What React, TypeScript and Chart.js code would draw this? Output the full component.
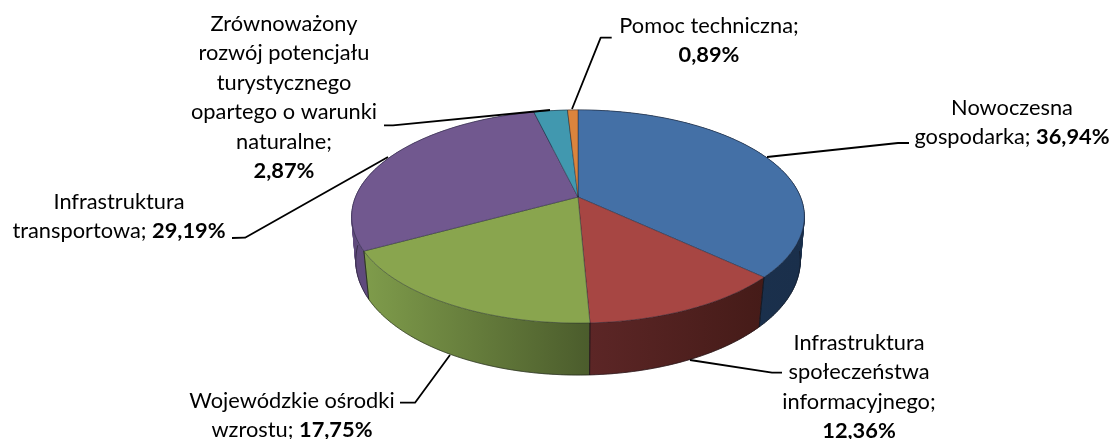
import React, { useEffect, useRef } from "react";
import { Chart, registerables } from "chart.js";

Chart.register(...registerables);

const categories = [
  "Nowoczesna gospodarka",
  "Infrastruktura społeczeństwa informacyjnego",
  "Wojewódzkie ośrodki wzrostu",
  "Infrastruktura transportowa",
  "Zrównoważony rozwój potencjału turystycznego opartego o warunki naturalne",
  "Pomoc techniczna",
];
const shares = [36.94, 12.36, 17.75, 29.19, 2.87, 0.89];
const faceColors = ["#4470A6", "#A74643", "#89A54E", "#71588F", "#4198AF", "#DB843D"];
const wallLeft = ["#1B3350", "#5C2626", "#7F9C4B", "#5F4A7C", "#2A6374", "#8F5628"];
const wallRight = ["#1A2F4B", "#451B18", "#4B5C2C", "#5F4A7C", "#2A6374", "#8F5628"];

// Text lines of each label; the last line (or the tail of it) carries the bold share.
const labelLines = [
  ["Nowoczesna", "gospodarka; "],
  ["Infrastruktura", "społeczeństwa", "informacyjnego;", ""],
  ["Wojewódzkie ośrodki", "wzrostu; "],
  ["Infrastruktura", "transportowa; "],
  ["Zrównoważony", "rozwój potencjału", "turystycznego", "opartego o warunki", "naturalne;", ""],
  ["Pomoc techniczna;", ""],
];
const labelCenterX = [1012, 859, 292, 119, 284, 709];
const labelFirstY = [107.5, 343, 401, 202, 24, 26];
const leaderLines = [
  [[767, 157], [898, 143], [909, 143]],
  [[690, 360], [772, 372.7], [782, 372.7]],
  [[450, 355], [415, 402.7], [400, 402.7]],
  [[388, 157], [245, 237.7], [232, 238]],
  [[550, 110], [393, 125.3], [384, 125.3]],
  [[572, 109], [600.7, 37.7], [611.7, 37.7]],
];

const FONT = "Lato";
const SIZE = 21.8;
const LINE = 29.4;

const top = { cx: 578, cy: 197, a: 222.5, b: 103, k: 0.183 };
const bottom = { cx: 578, cy: 241.3, a: 219, b: 111, k: 0.17 };
const FRONT_FROM = (95 * Math.PI) / 180;
const FRONT_TO = (268 * Math.PI) / 180;

function project(p: typeof top, t: number) {
  const u = Math.sin(t);
  const v = -Math.cos(t);
  const w = 1 - p.k * v;
  return [p.cx + (p.a * u) / w, p.cy + (p.b * v) / w];
}

function rim(p: typeof top, t0: number, t1: number) {
  const n = Math.max(2, Math.ceil(((t1 - t0) * 180) / Math.PI));
  const out: number[][] = [];
  for (let i = 0; i <= n; i++) out.push(project(p, t0 + ((t1 - t0) * i) / n));
  return out;
}

const pie3d = {
  id: "pie3d",
  beforeDatasetsDraw(chart: any) {
    const ctx: CanvasRenderingContext2D = chart.ctx;
    const arcs = chart.getDatasetMeta(0).data;
    const angles = arcs.map((a: any) => [a.startAngle + Math.PI / 2, a.endAngle + Math.PI / 2]);
    ctx.save();
    ctx.lineJoin = "round";

    // side walls
    for (let i = arcs.length - 1; i >= 0; i--) {
      const [t0, t1] = angles[i];
      const upper = rim(top, t0, t1);
      const lower = rim(bottom, t0, t1);
      const xs = upper.concat(lower).map((q) => q[0]);
      const g = ctx.createLinearGradient(Math.min(...xs), 0, Math.max(...xs), 0);
      g.addColorStop(0, wallLeft[i]);
      g.addColorStop(1, wallRight[i]);
      ctx.beginPath();
      for (let j = 0; j + 1 < upper.length; j++) {
        ctx.moveTo(upper[j][0], upper[j][1]);
        ctx.lineTo(upper[j + 1][0], upper[j + 1][1]);
        ctx.lineTo(lower[j + 1][0], lower[j + 1][1]);
        ctx.lineTo(lower[j][0], lower[j][1]);
        ctx.closePath();
      }
      ctx.fillStyle = g;
      ctx.fill();
      ctx.strokeStyle = g;
      ctx.lineWidth = 0.6;
      ctx.stroke();
    }

    // front edges of the walls
    ctx.strokeStyle = "rgba(15,15,20,0.7)";
    ctx.lineWidth = 0.7;
    angles.forEach(([t0, t1]: number[]) => {
      const a = Math.max(t0, FRONT_FROM);
      const b = Math.min(t1, FRONT_TO);
      if (b <= a) return;
      ctx.beginPath();
      rim(bottom, a, b).forEach((q, j) => (j ? ctx.lineTo(q[0], q[1]) : ctx.moveTo(q[0], q[1])));
      ctx.stroke();
      [t0, t1].forEach((t) => {
        if (t < FRONT_FROM || t > FRONT_TO) return;
        const u = project(top, t);
        const l = project(bottom, t);
        ctx.beginPath();
        ctx.moveTo(u[0], u[1]);
        ctx.lineTo(l[0], l[1]);
        ctx.stroke();
      });
    });

    // top faces
    arcs.forEach((_: any, i: number) => {
      const [t0, t1] = angles[i];
      const pts = rim(top, t0, t1);
      ctx.beginPath();
      ctx.moveTo(top.cx, top.cy);
      pts.forEach((q) => ctx.lineTo(q[0], q[1]));
      ctx.closePath();
      ctx.fillStyle = faceColors[i];
      ctx.fill();
      ctx.strokeStyle = "rgba(25,30,45,0.6)";
      ctx.lineWidth = 0.7;
      ctx.stroke();
    });

    // leader lines
    ctx.strokeStyle = "#000";
    ctx.lineWidth = 1.8;
    leaderLines.forEach((l) => {
      ctx.beginPath();
      l.forEach((q, j) => (j ? ctx.lineTo(q[0], q[1]) : ctx.moveTo(q[0], q[1])));
      ctx.stroke();
    });

    // labels
    ctx.fillStyle = "#000";
    ctx.textBaseline = "middle";
    ctx.textAlign = "left";
    const regular = `${SIZE}px ${FONT}`;
    const bold = `bold ${SIZE}px ${FONT}`;
    labelLines.forEach((lines, i) => {
      const share = shares[i].toFixed(2).replace(".", ",") + "%";
      lines.forEach((text, j) => {
        const y = labelFirstY[i] + j * LINE;
        const isLast = j === lines.length - 1;
        ctx.font = regular;
        const w0 = ctx.measureText(text).width;
        ctx.font = bold;
        const w1 = isLast ? ctx.measureText(share).width : 0;
        const x = labelCenterX[i] - (w0 + w1) / 2;
        ctx.font = regular;
        ctx.fillText(text, x, y);
        if (isLast) {
          ctx.font = bold;
          ctx.fillText(share, x + w0, y);
        }
      });
    });
    ctx.restore();
    return false;
  },
};

export default function App() {
  const ref = useRef<HTMLCanvasElement>(null);
  useEffect(() => {
    document.body.style.margin = "0";
    const chart = new Chart(ref.current!, {
      type: "pie",
      data: {
        labels: categories,
        datasets: [{ data: shares, backgroundColor: faceColors, borderWidth: 0 }],
      },
      options: {
        responsive: false,
        animation: false,
        plugins: { legend: { display: false }, tooltip: { enabled: false } },
      },
      plugins: [pie3d],
    });
    return () => chart.destroy();
  }, []);
  return (
    <canvas
      ref={ref}
      width={1113}
      height={439}
      style={{ display: "block", position: "absolute", left: 0, top: 0 }}
    />
  );
}
